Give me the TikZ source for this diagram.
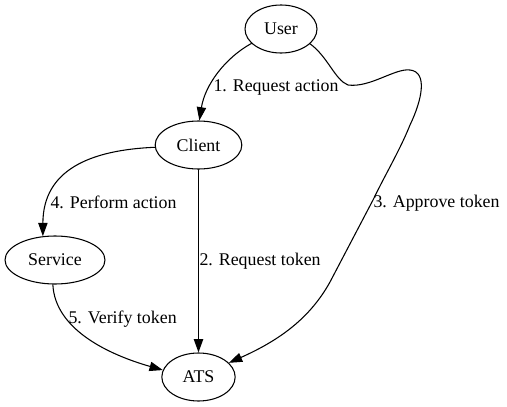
\documentclass[tikz,border=0pt]{standalone}
\usepackage{fontspec}
\setmainfont{Liberation Serif}
\usetikzlibrary{arrows.meta}
\usetikzlibrary{shapes.geometric}

\tikzset{
  party/.style={draw, ellipse, inner sep=0pt, minimum height=36pt, font=\fontsize{13.4}{16}\selectfont},
  steplabel/.style={anchor=west, inner sep=0pt, font=\fontsize{13.4}{16}\selectfont}
}

\begin{document}
\begin{tikzpicture}[x=0.75pt,y=-0.75pt,line width=0.8pt,line cap=round,line join=round,>={Triangle[length=10pt,width=7pt]}]
\useasboundingbox (0,0) rectangle (507,407);
\node[party, minimum width=54pt] (user) at (281,29) {User};
\node[party, minimum width=65pt] (client) at (198.5,145) {Client};
\node[party, minimum width=75pt] (service) at (55,260) {Service};
\node[party, minimum width=55pt] (ats) at (198.5,377) {ATS};
\draw [->] (user.206) .. controls (225,58) and (205,85) .. (client.88);
\draw [->] (client) -- (ats);
\draw [->] (user.333) .. controls (328,57) and (335,80) .. (348,85)
  .. controls (370,88) and (395,68) .. (410,70)
  .. controls (428,72) and (422,100) .. (410,125)
  .. controls (400,150) and (385,175) .. (373,200)
  -- (330,282) .. controls (310,318) and (280,340) .. (ats.25);
\draw [->] (client.183) .. controls (90,150) and (43,170) .. (service.117);
\draw [->] (service.265) .. controls (55,330) and (110,355) .. (ats.169);
\node[steplabel] (l1) at (213,87) {1. Request action};
\node[steplabel] (l2) at (199,261) {2. Request token};
\node[steplabel] (l3) at (373,203) {3. Approve token};
\node[steplabel] (l4) at (50,202) {4. Perform action};
\node[steplabel] (l5) at (68,319) {5. Verify token};
\end{tikzpicture}
\end{document}
